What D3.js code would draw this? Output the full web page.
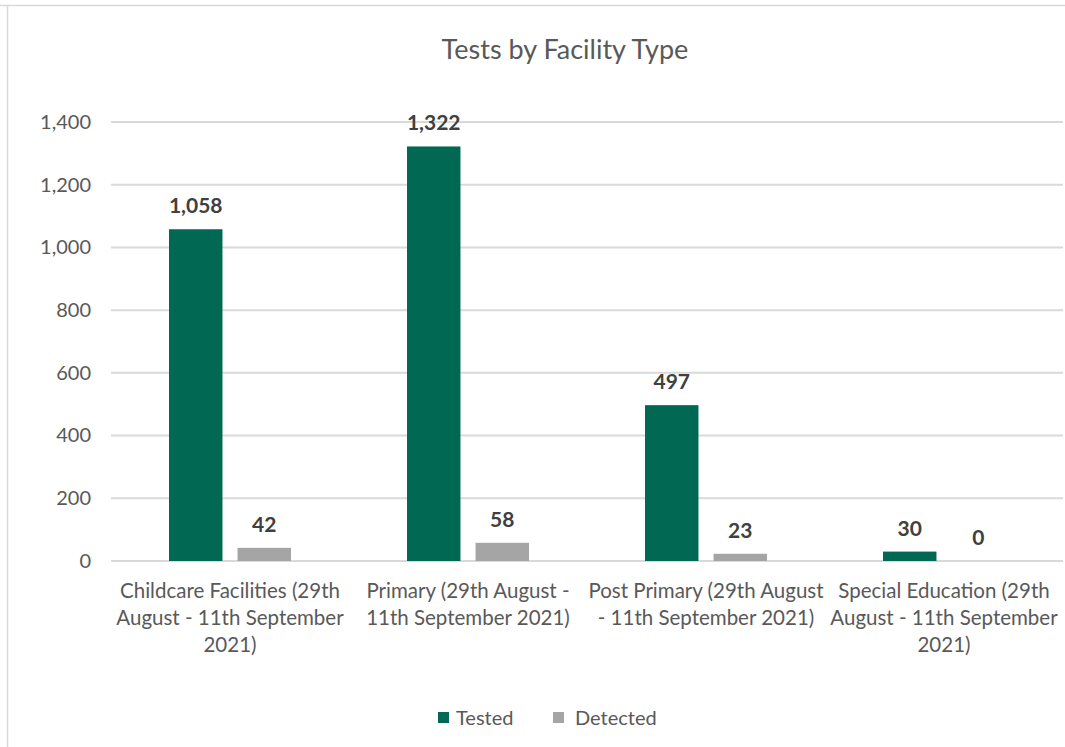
<!DOCTYPE html>
<html>
<head>
<meta charset="utf-8">
<script src="https://cdn.jsdelivr.net/npm/d3@7"></script>
<style>
  body { margin: 0; background: #fff; }
  text { font-family: Lato, "Open Sans", sans-serif; }
</style>
</head>
<body>
<script>
// data
var categories = ["Childcare", "Primary", "PostPrimary", "Special"];
var categoryLines = [
  ["Childcare Facilities (29th", "August - 11th September", "2021)"],
  ["Primary (29th August -", "11th September 2021)"],
  ["Post Primary (29th August", "- 11th September 2021)"],
  ["Special Education (29th", "August - 11th September", "2021)"]
];
var seriesNames = ["Tested", "Detected"];
var tested = [1058, 1322, 497, 30];
var detected = [42, 58, 23, 0];
var yTicks = [0, 200, 400, 600, 800, 1000, 1200, 1400];

var colors = { Tested: "#006853", Detected: "#a5a5a5" };

var outerWidth = 1065, outerHeight = 747;
var margin = { top: 122, right: 2, bottom: 186, left: 111 };
var width = outerWidth - margin.left - margin.right,
  height = outerHeight - margin.top - margin.bottom;

var rows = categories.map(function (c, i) {
  return { cat: c, Tested: tested[i], Detected: detected[i] };
});

var svg = d3.select("body").append("svg")
  .attr("width", outerWidth)
  .attr("height", outerHeight);

// chart frame
svg.append("line").attr("x1", 0).attr("x2", outerWidth).attr("y1", 5.5).attr("y2", 5.5)
  .style("stroke", "#d9d9d9").style("stroke-width", 1.5);
svg.append("line").attr("x1", 7.5).attr("x2", 7.5).attr("y1", 5).attr("y2", outerHeight)
  .style("stroke", "#d9d9d9").style("stroke-width", 1.5);

svg.append("text")
  .attr("x", 565).attr("y", 59)
  .attr("text-anchor", "middle")
  .style("font-size", "27px")
  .style("fill", "#595959")
  .text("Tests by Facility Type");

var g = svg.append("g")
  .attr("transform", "translate(" + margin.left + "," + margin.top + ")");

var x0 = d3.scaleBand().domain(categories).range([0, width]);
var x1 = d3.scaleBand().domain(seriesNames).range([58, x0.bandwidth() - 58]).paddingInner(0.22);
var y = d3.scaleLinear().domain([0, 1400]).range([height, 0]);

// gridlines
g.selectAll(".grid").data(yTicks).enter().append("line")
  .attr("x1", 0).attr("x2", width)
  .attr("y1", function (d) { return y(d); })
  .attr("y2", function (d) { return y(d); })
  .style("stroke", "#d9d9d9").style("stroke-width", 2);

// y axis labels
var yAxis = d3.axisLeft(y).tickValues(yTicks).tickSize(0).tickPadding(20)
  .tickFormat(d3.format(","));
g.append("g").call(yAxis)
  .call(function (s) { s.select(".domain").remove(); })
  .selectAll("text")
  .style("font-size", "20px")
  .style("fill", "#595959")
  .style("font-family", "Lato, sans-serif");

// bars
var groups = g.selectAll(".cat").data(rows).enter().append("g")
  .attr("transform", function (d) { return "translate(" + x0(d.cat) + ",0)"; });

groups.selectAll("rect").data(function (d) {
  return seriesNames.map(function (k) { return { key: k, value: d[k] }; });
}).enter().append("rect")
  .attr("x", function (d) { return x1(d.key); })
  .attr("width", x1.bandwidth())
  .attr("y", function (d) { return y(d.value); })
  .attr("height", function (d) { return height - y(d.value); })
  .style("fill", function (d) { return colors[d.key]; });

groups.selectAll(".val").data(function (d) {
  return seriesNames.map(function (k) { return { key: k, value: d[k] }; });
}).enter().append("text")
  .attr("x", function (d) { return x1(d.key) + x1.bandwidth() / 2; })
  .attr("y", function (d) { return y(d.value) - 16; })
  .attr("text-anchor", "middle")
  .style("font-size", "21px")
  .style("font-weight", "bold")
  .style("fill", "#404040")
  .text(function (d) { return d3.format(",")(d.value); });

// category labels
groups.each(function (d, i) {
  var t = d3.select(this).append("text")
    .attr("text-anchor", "middle")
    .style("font-size", "20.5px")
    .style("fill", "#595959");
  categoryLines[i].forEach(function (line, j) {
    t.append("tspan")
      .attr("x", x0.bandwidth() / 2)
      .attr("y", height + 37 + j * 27)
      .text(line);
  });
});

// legend
var legend = svg.append("g").attr("transform", "translate(438,712)");
var legendX = [0, 115];
seriesNames.forEach(function (k, i) {
  legend.append("rect").attr("x", legendX[i]).attr("y", 0)
    .attr("width", 11).attr("height", 11).style("fill", colors[k]);
  legend.append("text").attr("x", legendX[i] + (i === 0 ? 18 : 22)).attr("y", 13)
    .style("font-size", "20px").style("fill", "#595959").text(k);
});
</script>
</body>
</html>
